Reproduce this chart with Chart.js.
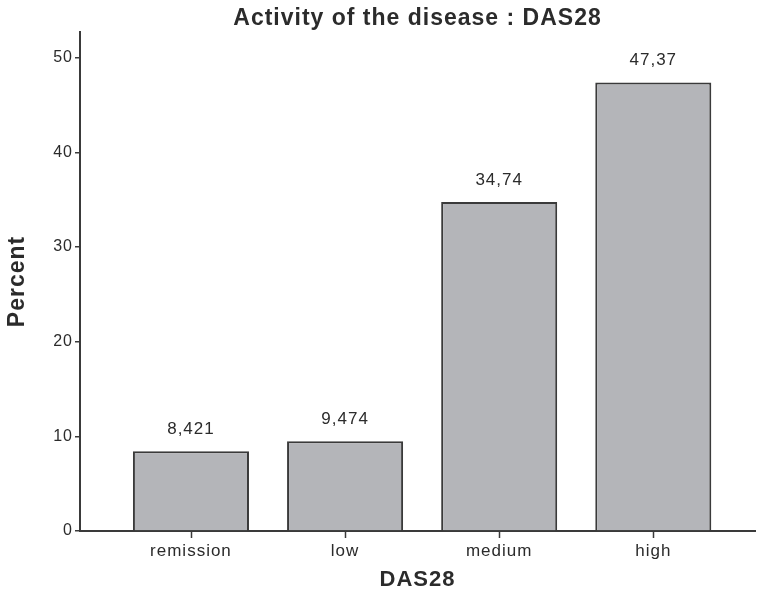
<!DOCTYPE html>
<html lang="en">
<head>
    <meta charset="UTF-8">
    <title>Activity of the disease : DAS28</title>
    <script src="https://cdn.jsdelivr.net/npm/chart.js"></script>
    <style>
        html, body {
            margin: 0;
            padding: 0;
            background: #ffffff;
        }
        #wrap {
            width: 757px;
            height: 598px;
        }
    </style>
</head>
<body>
    <div id="wrap"><canvas id="barChart"></canvas></div>

    <script>
        // Données
        const categories = ['remission', 'low', 'medium', 'high'];
        const percentValues = [8.421, 9.474, 34.74, 47.37];
        const valueLabels = ['8,421', '9,474', '34,74', '47,37'];
        const yTicks = [0, 10, 20, 30, 40, 50];

        const textColor = '#2b2b2b';
        const axisColor = '#3a3a3a';
        const fontFamily = '"Liberation Sans", Arial, sans-serif';

        // Espacement des lettres (style SPSS)
        const spacingPlugin = {
            id: 'letterSpacing',
            beforeDraw(chart) {
                chart.ctx.letterSpacing = '1px';
            }
        };

        // Petits traits sous l'axe X, placés par l'échelle
        const xTickMarkPlugin = {
            id: 'xTickMarks',
            afterDraw(chart) {
                const ctx = chart.ctx;
                const xs = chart.scales.x;
                ctx.save();
                ctx.strokeStyle = axisColor;
                ctx.lineWidth = 1.5;
                categories.forEach((c, i) => {
                    const px = Math.round(xs.getPixelForValue(i)) + 0.5;
                    ctx.beginPath();
                    ctx.moveTo(px, xs.top);
                    ctx.lineTo(px, xs.top + 7);
                    ctx.stroke();
                });
                ctx.restore();
            }
        };

        // Etiquettes de valeur au-dessus des barres
        const valueLabelPlugin = {
            id: 'valueLabels',
            afterDatasetsDraw(chart) {
                const ctx = chart.ctx;
                const meta = chart.getDatasetMeta(0);
                ctx.save();
                ctx.fillStyle = textColor;
                ctx.font = '17px ' + fontFamily;
                ctx.textAlign = 'center';
                ctx.textBaseline = 'middle';
                meta.data.forEach((bar, i) => {
                    ctx.fillText(valueLabels[i], bar.x, bar.y - 22);
                });
                ctx.restore();
            }
        };

        const points = categories.map((c, i) => ({ x: i, y: percentValues[i] }));

        const ctx = document.getElementById('barChart').getContext('2d');
        const chart = new Chart(ctx, {
            type: 'bar',
            data: {
                datasets: [{
                    data: points,
                    backgroundColor: '#b4b5b9',
                    borderColor: axisColor,
                    borderWidth: 2,
                    borderSkipped: 'bottom',
                    barPercentage: 0.753,
                    categoryPercentage: 1
                }]
            },
            options: {
                responsive: true,
                maintainAspectRatio: false,
                animation: false,
                layout: { padding: { left: 0, right: 2, top: 0, bottom: 0 } },
                plugins: {
                    legend: { display: false },
                    tooltip: { enabled: false },
                    title: {
                        display: true,
                        text: 'Activity of the disease : DAS28',
                        color: textColor,
                        fullSize: false,
                        font: { family: fontFamily, size: 23, weight: 'bold', lineHeight: 1.1 },
                        padding: { top: 6, bottom: 0.7 }
                    }
                },
                scales: {
                    x: {
                        type: 'linear',
                        min: -0.72,
                        max: 3.66,
                        offset: false,
                        afterBuildTicks: scale => {
                            scale.ticks = categories.map((c, i) => ({ value: i }));
                        },
                        afterFit: scale => { scale.height = 67; },
                        ticks: {
                            color: textColor,
                            padding: 2,
                            autoSkip: false,
                            maxRotation: 0,
                            font: { family: fontFamily, size: 17 },
                            callback: v => categories[v]
                        },
                        grid: { display: false },
                        border: { display: true, color: axisColor, width: 2 },
                        title: {
                            display: true,
                            text: 'DAS28',
                            color: textColor,
                            font: { family: fontFamily, size: 22, weight: 'bold' },
                            padding: { top: 4, bottom: 5 }
                        }
                    },
                    y: {
                        min: 0,
                        max: 52.7,
                        afterBuildTicks: scale => {
                            scale.ticks = yTicks.map(v => ({ value: v }));
                        },
                        afterFit: scale => { scale.width = 80; },
                        ticks: {
                            color: textColor,
                            padding: 2,
                            font: { family: fontFamily, size: 16 }
                        },
                        grid: {
                            drawOnChartArea: false,
                            drawTicks: true,
                            tickLength: 5,
                            color: axisColor,
                            lineWidth: 1.5
                        },
                        border: { display: true, color: axisColor, width: 2 },
                        title: {
                            display: true,
                            text: 'Percent',
                            color: textColor,
                            font: { family: fontFamily, size: 23, weight: 'bold' },
                            padding: { top: 4, bottom: 4 }
                        }
                    }
                }
            },
            plugins: [spacingPlugin, valueLabelPlugin, xTickMarkPlugin]
        });
    </script>
</body>
</html>
